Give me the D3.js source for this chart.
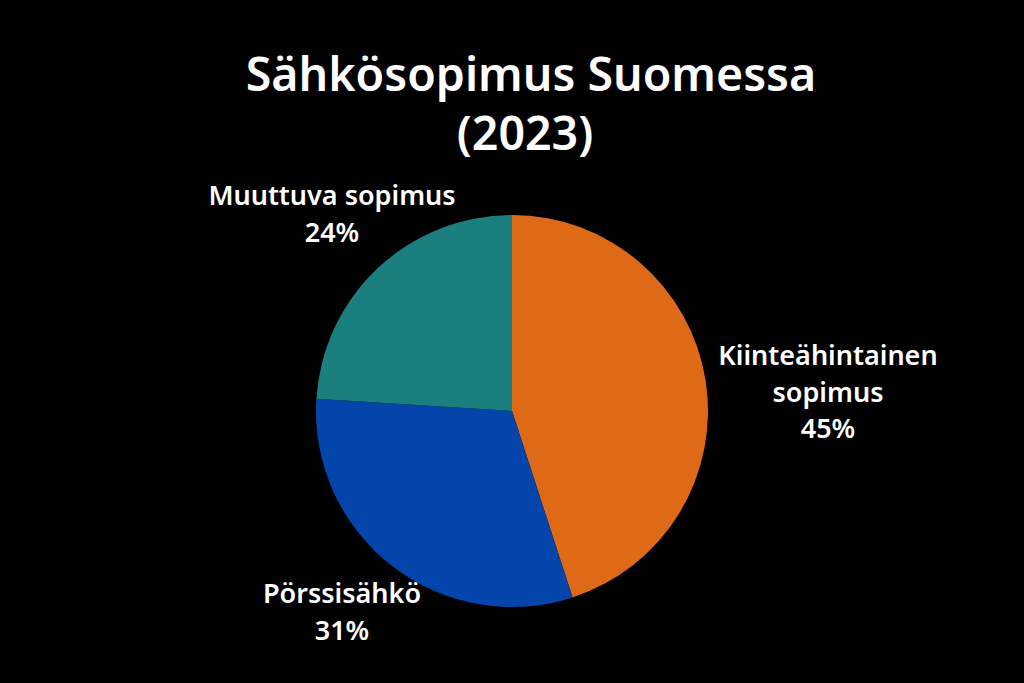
<!DOCTYPE html>
<html>
<head>
<meta charset="utf-8">
<script src="https://cdn.jsdelivr.net/npm/d3@7"></script>
<style>
  html, body { margin: 0; padding: 0; background: #000; }
  svg { display: block; }
</style>
</head>
<body>
<div id="chart"></div>
<script>
// data
const categories = ["Kiinteähintainen sopimus", "Pörssisähkö", "Muuttuva sopimus"];
const shares = [45, 31, 24];
const colors = ["#DE6A18", "#0445AC", "#1A7F7E"];
// label lines per category (as in the picture)
const labelLines = [["Kiinteähintainen", "sopimus"], ["Pörssisähkö"], ["Muuttuva sopimus"]];
const labelPos = [[828, 365], [342, 603], [332, 205]];
const titleLines = ["Sähkösopimus Suomessa", "(2023)"];
const titlePos = [[531, 91], [525, 150]];

const width = 1024, height = 683;
const cx = 512, cy = 411, radius = 196;

const svg = d3.select("#chart").append("svg")
    .attr("width", width)
    .attr("height", height)
    .style("background", "#000")
    .style("font-family", "'Noto Sans', 'Open Sans', sans-serif");

svg.selectAll("text.title")
    .data(titleLines)
    .enter().append("text")
        .attr("class", "title")
        .attr("x", (d, i) => titlePos[i][0])
        .attr("y", (d, i) => titlePos[i][1])
        .attr("text-anchor", "middle")
        .attr("fill", "#fff")
        .attr("font-size", 46.5)
        .attr("font-weight", 600)
        .text(d => d);

const pie = d3.pie().sort(null).value(d => d);
const arc = d3.arc().innerRadius(0).outerRadius(radius);

const g = svg.append("g").attr("transform", `translate(${cx},${cy})`);

g.selectAll("path")
    .data(pie(shares))
    .enter().append("path")
        .attr("d", arc)
        .attr("fill", (d, i) => colors[i]);

const labels = svg.selectAll("text.label")
    .data(categories)
    .enter().append("text")
        .attr("class", "label")
        .attr("text-anchor", "middle")
        .attr("fill", "#fff")
        .attr("font-size", 27)
        .attr("font-weight", 600);

labels.selectAll("tspan")
    .data((d, i) => labelLines[i].concat(shares[i] + "%").map(t => ({t, i})))
    .enter().append("tspan")
        .attr("x", d => labelPos[d.i][0])
        .attr("y", (d, j) => labelPos[d.i][1] + j * 36.5)
        .text(d => d.t);
</script>
</body>
</html>
